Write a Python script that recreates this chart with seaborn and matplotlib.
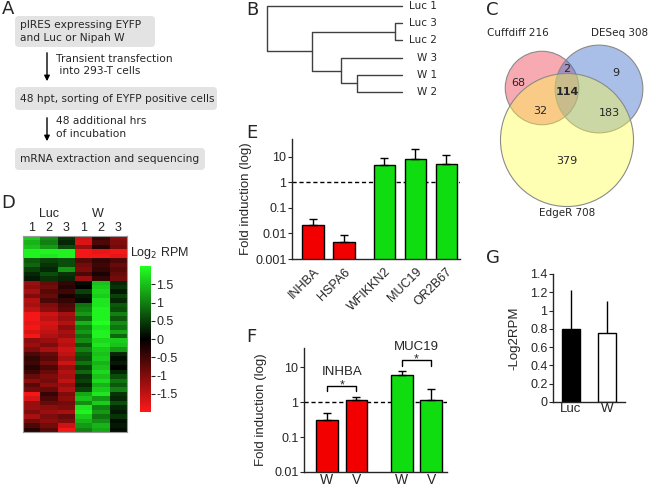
import numpy as np
import pandas as pd
import matplotlib
matplotlib.use('Agg')
import matplotlib.pyplot as plt
import seaborn as sns
from matplotlib.patches import FancyBboxPatch, Circle
from matplotlib.colors import LinearSegmentedColormap

W_PX, H_PX = 650, 487

# ---- data ----
flow_steps = ['pIRES expressing EYFP\nand Luc or Nipah W',
              '48 hpt, sorting of EYFP positive cells',
              'mRNA extraction and sequencing']
flow_arrows = ['Transient transfection\n into 293-T cells',
               '48 additional hrs\nof incubation']

dendro_leaves = ['Luc 1', 'Luc 3', 'Luc 2', 'W 3', 'W 1', 'W 2']
# (left, right, height) - new clusters get ids after the leaves
dendro_merges = [(1, 2, 0.05), (4, 5, 0.33), (3, 7, 0.45), (6, 8, 0.67), (0, 9, 1.0)]

venn_names = ['Cuffdiff', 'DESeq', 'EdgeR']
venn_totals = [216, 308, 708]
venn_region_names = ['Cuffdiff', 'Cuffdiff+DESeq', 'DESeq', 'all', 'Cuffdiff+EdgeR', 'DESeq+EdgeR', 'EdgeR']
venn_region_counts = [68, 2, 9, 114, 32, 183, 379]

heat_cols = ['1', '2', '3', '1', '2', '3']
heat_groups = ['Luc', 'W']
heat_rows = [
    [1.6, 1.1, 0.4, -1.6, -0.4, -1.1],
    [1.4, 1.0, 0.3, -1.7, -0.6, -1.0],
    [1.5, 1.2, 0.6, -1.2, -0.3, -0.9],
    [1.9, 1.9, 1.9, -1.9, -1.8, -1.9],
    [1.9, 1.8, 1.9, -1.9, -1.9, -1.8],
    [0.7, 0.5, 0.6, -0.7, -0.4, -0.6],
    [0.8, 0.4, 0.6, -0.9, -0.5, -0.8],
    [0.5, 0.3, 1.2, -1.0, -0.4, -0.7],
    [0.3, 0.6, 0.4, -0.6, -0.2, -0.8],
    [0.2, 0.4, 0.3, -1.2, -0.4, -0.9],
    [-1.2, -0.8, -0.4, 0.1, 1.5, 0.3],
    [-1.1, -0.9, -0.3, 0.0, 1.6, 0.4],
    [-1.3, -0.7, -0.5, 0.5, 1.7, 0.2],
    [-1.0, -0.8, -0.2, 0.2, 1.6, 0.5],
    [-1.4, -0.6, -0.4, 0.1, 1.8, 0.3],
    [-1.3, -1.0, -0.6, 0.9, 1.8, 0.7],
    [-1.5, -1.1, -0.7, 1.0, 1.9, 0.6],
    [-1.9, -1.6, -1.3, 1.2, 1.9, 1.0],
    [-1.9, -1.5, -1.2, 0.8, 1.9, 0.7],
    [-1.8, -1.7, -1.4, 1.4, 2.0, 1.1],
    [-1.9, -1.6, -1.1, 1.0, 1.8, 0.9],
    [-1.7, -1.5, -1.3, 1.2, 1.9, 1.3],
    [-1.9, -1.4, -1.2, 0.9, 1.9, 0.8],
    [-1.1, -1.2, -1.5, 1.1, 1.7, 1.6],
    [-1.2, -1.0, -1.4, 0.7, 1.8, 1.5],
    [-1.0, -1.3, -1.6, 1.0, 1.6, 1.2],
    [-0.6, -0.8, -1.5, 0.7, 1.5, 0.3],
    [-0.4, -0.7, -1.3, 0.6, 1.6, 0.1],
    [-0.5, -0.9, -1.6, 0.9, 1.4, 0.2],
    [-0.3, -0.6, -1.2, 0.5, 1.5, 0.0],
    [-0.5, -0.8, -1.4, 0.8, 1.7, 0.3],
    [-0.8, -1.0, -1.3, 0.4, 1.5, 0.6],
    [-1.1, -0.9, -1.5, 0.5, 1.7, 0.9],
    [-0.7, -1.1, -1.2, 0.3, 1.4, 0.7],
    [-0.9, -0.8, -1.4, 0.5, 1.6, 1.0],
    [-1.9, -0.4, -1.0, 1.3, 1.8, 0.4],
    [-1.7, -0.6, -1.1, 1.5, 1.2, 0.3],
    [-1.2, -0.8, -0.9, 1.1, 1.6, 0.6],
    [-1.2, -1.1, -1.0, 1.8, 1.0, 0.3],
    [-1.0, -1.2, -1.3, 1.9, 1.2, 0.2],
    [-1.3, -1.0, -0.8, 1.6, 0.9, 0.4],
    [-0.9, -1.1, -1.0, 1.4, 1.1, 0.1],
    [-0.6, -0.9, -1.6, 1.2, 1.4, 0.2],
    [-0.3, -0.7, -1.9, 1.0, 1.3, 0.1],
]
cbar_ticks = [-1.5, -1, -0.5, 0, 0.5, 1, 1.5]

e_genes = ['INHBA', 'HSPA6', 'WFIKKN2', 'MUC19', 'OR2B67']
e_fold = [0.021, 0.0047, 5.0, 8.6, 5.3]
e_err_top = [0.036, 0.0091, 9.4, 20.0, 11.8]
e_direction = ['down', 'down', 'up', 'up', 'up']
e_pos = [0, 1, 2.3, 3.3, 4.3]

f_labels = ['W', 'V', 'W', 'V']
f_genes = ['INHBA', 'INHBA', 'MUC19', 'MUC19']
f_fold = [0.31, 1.17, 6.2, 1.19]
f_err_top = [0.50, 1.43, 7.7, 2.4]
f_colour = ['down', 'down', 'up', 'up']
f_pos = [0, 1, 2.54, 3.54]

g_labels = ['Luc', 'W']
g_vals = [0.80, 0.76]
g_err_top = [1.23, 1.10]

RED = '#f20000'
GREEN = '#10dd10'

sns.set_style('ticks')
plt.rcParams['font.family'] = ['DejaVu Sans']
plt.rcParams['axes.linewidth'] = 1.0
AXFONT = 'Liberation Sans'


def px_axes(fig, x0, y0, x1, y1):
    return fig.add_axes([x0 / W_PX, 1 - y1 / H_PX, (x1 - x0) / W_PX, (y1 - y0) / H_PX])


def panel_label(fig, x, y, s):
    fig.text(x / W_PX, 1 - y / H_PX, s, fontsize=13, va='baseline', ha='left')


def style_ticks(ax, size):
    for lab in ax.get_xticklabels() + ax.get_yticklabels():
        lab.set_fontfamily(AXFONT)
        lab.set_fontsize(size)


fig = plt.figure(figsize=(6.5, 4.87), dpi=100)

# ---- A: flowchart ----
ax = px_axes(fig, 0, 0, 230, 180)
ax.set_xlim(0, 230)
ax.set_ylim(180, 0)
ax.axis('off')
boxes = [(15, 16, 140, 31), (15, 87, 202, 23), (15, 148, 190, 22)]
for (bx, by, bw, bh), txt in zip(boxes, flow_steps):
    ax.add_patch(FancyBboxPatch((bx, by), bw, bh, boxstyle='round,pad=0,rounding_size=4',
                                facecolor='#e3e3e3', edgecolor='none'))
    ax.text(bx + 5, by + bh / 2, txt, ha='left', va='center', fontsize=7.7, linespacing=1.35)
arrow_spans = [(50, 84), (115, 144)]
for (ya, yb), txt in zip(arrow_spans, flow_arrows):
    ax.annotate('', xy=(47, yb), xytext=(47, ya),
                arrowprops=dict(arrowstyle='-|>', color='black', lw=1, mutation_scale=8))
    ax.text(56, (ya + yb) / 2 - 2, txt, ha='left', va='center', fontsize=7.7, linespacing=1.35)

# ---- B: dendrogram ----
ax = px_axes(fig, 267, 6, 402, 92)
ax.set_xlim(1.0, 0)
ax.set_ylim(5, 0)
ax.axis('off')
ypos = {i: float(i) for i in range(len(dendro_leaves))}
hpos = {i: 0.0 for i in range(len(dendro_leaves))}
nid = len(dendro_leaves)
for a, b, h in dendro_merges:
    ax.plot([hpos[a], h, h, hpos[b]], [ypos[a], ypos[a], ypos[b], ypos[b]],
            color='#404040', lw=1, clip_on=False)
    ypos[nid] = (ypos[a] + ypos[b]) / 2
    hpos[nid] = h
    nid += 1
for i, lab in enumerate(dendro_leaves):
    ax.text(-0.26, i, lab, ha='right', va='center', fontsize=7.5, clip_on=False)

# ---- C: venn ----
ax = px_axes(fig, 460, 0, 650, 230)
ax.set_xlim(460, 650)
ax.set_ylim(230, 0)
ax.axis('off')
centres = [(542, 88), (599, 89), (567, 140)]
fills = ['#ee4455', '#4071cc', '#ffff44']
alphas = [0.45, 0.45, 0.4]
for (cx, cy), n, col, al in zip(centres, venn_totals, fills, alphas):
    ax.add_patch(Circle((cx, cy), 2.5 * np.sqrt(n), facecolor=col, alpha=al,
                        edgecolor='none'))
    ax.add_patch(Circle((cx, cy), 2.5 * np.sqrt(n), facecolor='none',
                        edgecolor='#8a8a8a', lw=0.8))
name_xy = [(518, 33), (620, 33), (567, 213)]
for (tx, ty), nm, n in zip(name_xy, venn_names, venn_totals):
    ax.text(tx, ty, f'{nm} {n}', ha='center', va='center', fontsize=7.5)
region_xy = [(518, 83), (567, 69), (616, 73), (567, 92), (540, 111), (609, 113), (567, 161)]
for (tx, ty), nm, n in zip(region_xy, venn_region_names, venn_region_counts):
    ax.text(tx, ty, str(n), ha='center', va='center', fontsize=8,
            fontweight='bold' if nm == 'all' else 'normal')

# ---- D: heatmap ----
ax = px_axes(fig, 23, 236, 127, 432)
cax = px_axes(fig, 140, 266, 151, 412)
cmap = LinearSegmentedColormap.from_list('rg', ['#ff1818', '#000000', '#22ff22'])
heat = pd.DataFrame(heat_rows, columns=[f'{g}{c}' for g in heat_groups for c in heat_cols[:3]])
sns.heatmap(heat, ax=ax, cmap=cmap, vmin=-2, vmax=2, cbar_ax=cax,
            xticklabels=False, yticklabels=False)
for sp in ax.spines.values():
    sp.set_visible(True)
    sp.set_color('#999999')
    sp.set_linewidth(0.8)
for i, c in enumerate(heat_cols):
    ax.text(i + 0.5, -0.4, c, ha='center', va='bottom', fontsize=9, fontfamily=AXFONT)
for gx, g in zip([1.5, 4.3], heat_groups):
    ax.text(gx, -3.6, g, ha='center', va='bottom', fontsize=9, fontfamily=AXFONT)
cax.set_yticks(cbar_ticks)
cax.set_yticklabels([f'{t:g}' for t in cbar_ticks])
cax.tick_params(length=3, width=0.8, pad=1)
style_ticks(cax, 9)
for sp in cax.spines.values():
    sp.set_visible(False)
fig.text(160 / W_PX, 1 - 253 / H_PX, 'Log$_2$ RPM', ha='center', va='center',
         fontsize=9, fontfamily=AXFONT)

# ---- E: qPCR single genes ----
ax = px_axes(fig, 292, 139, 460, 259)
e_df = pd.DataFrame({'pos': e_pos, 'fold': e_fold, 'dir': e_direction})
sns.barplot(data=e_df, x='pos', y='fold', hue='dir', palette={'down': RED, 'up': GREEN},
            native_scale=True, dodge=False, width=0.7, edgecolor='black', linewidth=1,
            saturation=1, errorbar=None, legend=False, ax=ax)
ax.errorbar(e_pos, e_fold, yerr=[np.zeros(len(e_fold)), np.array(e_err_top) - np.array(e_fold)],
            fmt='none', ecolor='black', elinewidth=1, capsize=3, capthick=1, zorder=5)
ax.set_yscale('log')
ax.set_ylim(0.001, 50)
ax.set_xlim(-0.68, 4.74)
ax.axhline(1, color='black', lw=1, ls=(0, (3, 2)), zorder=0)
ax.set_yticks([0.001, 0.01, 0.1, 1, 10])
ax.set_yticklabels(['0.001', '0.01', '0.1', '1', '10'])
ax.minorticks_off()
ax.set_xticks(e_pos)
ax.set_xticklabels(e_genes, rotation=45, ha='right', rotation_mode='anchor')
ax.tick_params(axis='y', length=3, pad=1)
ax.tick_params(axis='x', length=0, pad=5)
style_ticks(ax, 9)
ax.set_xlabel('')
ax.set_ylabel('Fold induction (log)', fontsize=9.5, fontfamily=AXFONT)
ax.yaxis.set_label_coords(-0.238, 0.5)
sns.despine(ax=ax)

# ---- F: W vs V ----
ax = px_axes(fig, 304, 348, 447, 472)
f_df = pd.DataFrame({'pos': f_pos, 'fold': f_fold, 'dir': f_colour})
sns.barplot(data=f_df, x='pos', y='fold', hue='dir', palette={'down': RED, 'up': GREEN},
            native_scale=True, dodge=False, width=0.74, edgecolor='black', linewidth=1,
            saturation=1, errorbar=None, legend=False, ax=ax)
ax.errorbar(f_pos, f_fold, yerr=[np.zeros(len(f_fold)), np.array(f_err_top) - np.array(f_fold)],
            fmt='none', ecolor='black', elinewidth=1, capsize=3, capthick=1, zorder=5)
ax.set_yscale('log')
ax.set_ylim(0.01, 36)
ax.set_xlim(-0.78, 4.07)
ax.axhline(1, color='black', lw=1, ls=(0, (3, 2)), zorder=0)
ax.set_yticks([0.01, 0.1, 1, 10])
ax.set_yticklabels(['0.01', '0.1', '1', '10'])
ax.minorticks_off()
ax.set_xticks(f_pos)
ax.set_xticklabels(f_labels)
ax.tick_params(axis='y', length=3, pad=1)
ax.tick_params(axis='x', length=0, pad=1)
style_ticks(ax, 9)
for lab in ax.get_xticklabels():
    lab.set_fontsize(10)
ax.set_xlabel('')
ax.set_ylabel('Fold induction (log)', fontsize=9.5, fontfamily=AXFONT)
ax.yaxis.set_label_coords(-0.26, 0.5)
sns.despine(ax=ax)
for gene in ['INHBA', 'MUC19']:
    idx = [i for i, g in enumerate(f_genes) if g == gene]
    x0, x1 = f_pos[idx[0]], f_pos[idx[-1]]
    top = max(f_err_top[i] for i in idx) * 2.1
    ax.plot([x0, x0, x1, x1], [top / 1.45, top, top, top / 1.45], color='black', lw=1, clip_on=False)
    ax.text((x0 + x1) / 2, top * 0.84, '*', ha='center', va='baseline', fontsize=9,
            fontfamily=AXFONT, clip_on=False)
    ax.text((x0 + x1) / 2, top * 2.4, gene, ha='center', va='center', fontsize=9.5,
            fontfamily=AXFONT, clip_on=False)

# ---- G: -log2 RPM ----
ax = px_axes(fig, 553, 274, 625, 402)
g_df = pd.DataFrame({'group': g_labels, 'val': g_vals})
sns.barplot(data=g_df, x='group', y='val', hue='group', palette={'Luc': 'black', 'W': 'white'},
            width=0.52, edgecolor='black', linewidth=1, saturation=1, errorbar=None,
            legend=False, ax=ax)
ax.errorbar(range(len(g_vals)), g_vals,
            yerr=[np.zeros(len(g_vals)), np.array(g_err_top) - np.array(g_vals)],
            fmt='none', ecolor='black', elinewidth=1, capsize=0, zorder=5)
ax.set_ylim(0, 1.4)
ax.set_xlim(-0.5, 1.5)
ax.set_yticks(np.arange(0, 1.41, 0.2))
ax.set_yticklabels([f'{t:g}' for t in np.round(np.arange(0, 1.41, 0.2), 1)])
ax.tick_params(axis='y', length=3, pad=1)
ax.tick_params(axis='x', length=0, pad=1)
style_ticks(ax, 9)
for lab in ax.get_xticklabels():
    lab.set_fontsize(9.5)
ax.set_xlabel('')
ax.set_ylabel('-Log2RPM', fontsize=9.5, fontfamily=AXFONT)
ax.yaxis.set_label_coords(-0.458, 0.5)
sns.despine(ax=ax)

panel_label(fig, 2, 14, 'A')
panel_label(fig, 246, 15, 'B')
panel_label(fig, 486, 15, 'C')
panel_label(fig, 1, 208, 'D')
panel_label(fig, 246, 138, 'E')
panel_label(fig, 246, 342, 'F')
panel_label(fig, 486, 263, 'G')

fig.savefig('out.png', dpi=100)
